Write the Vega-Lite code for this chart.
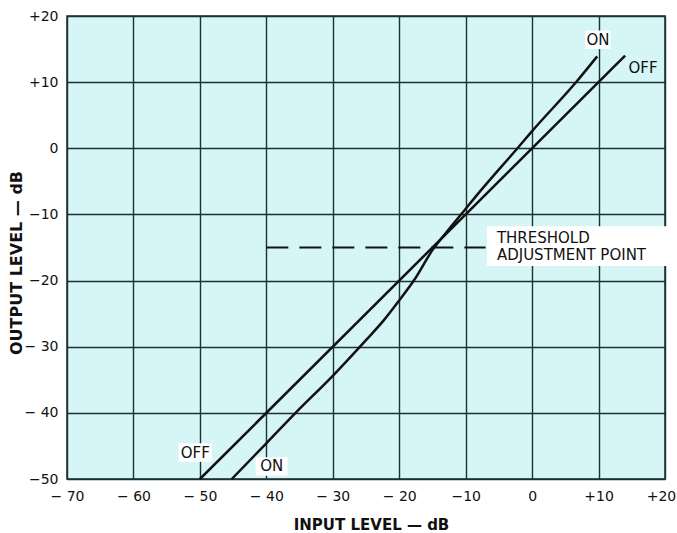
{
  "$schema": "https://vega.github.io/schema/vega-lite/v6.json",
  "width": 598,
  "height": 463,
  "autosize": {"type": "none"},
  "padding": {"left": 67, "top": 16, "right": 12, "bottom": 54},
  "background": "white",
  "config": {
    "font": "DejaVu Sans",
    "view": {"fill": "#d6f5f7", "stroke": "#1c2e2e", "strokeWidth": 1.5},
    "axis": {
      "grid": true,
      "gridColor": "#1c3232",
      "gridWidth": 1.4,
      "gridOpacity": 1,
      "ticks": false,
      "tickSize": 0,
      "domain": false,
      "labelFont": "DejaVu Sans",
      "labelFontSize": 14,
      "labelColor": "#111",
      "labelFlush": false,
      "labelOverlap": false,
      "titleFont": "DejaVu Sans",
      "titleFontWeight": "bold",
      "titleColor": "#111"
    }
  },
  "datasets": {
    "curves": [
      {"series": "OFF", "x": -50, "y": -50},
      {"series": "OFF", "x": 14, "y": 14},
      {"series": "ON", "x": -45.2, "y": -50},
      {"series": "ON", "x": -40, "y": -44.6},
      {"series": "ON", "x": -35.6, "y": -40},
      {"series": "ON", "x": -30, "y": -34.4},
      {"series": "ON", "x": -25, "y": -29.0},
      {"series": "ON", "x": -22.4, "y": -26.1},
      {"series": "ON", "x": -20, "y": -23.0},
      {"series": "ON", "x": -17.8, "y": -20},
      {"series": "ON", "x": -15, "y": -15.4},
      {"series": "ON", "x": -12.5, "y": -12.2},
      {"series": "ON", "x": -10.2, "y": -9.4},
      {"series": "ON", "x": -8, "y": -6.7},
      {"series": "ON", "x": -2.3, "y": -0.1},
      {"series": "ON", "x": 0, "y": 2.6},
      {"series": "ON", "x": 6.7, "y": 10.1},
      {"series": "ON", "x": 9.8, "y": 13.9}
    ],
    "threshold": [
      {"x": -40, "y": -15},
      {"x": -7, "y": -15}
    ],
    "boxes": [
      {"x": 8.0, "x2": 11.8, "y": 15.0, "y2": 17.8},
      {"x": -53.2, "x2": -48.2, "y": -44.6, "y2": -47.4},
      {"x": -41.6, "x2": -36.8, "y": -46.7, "y2": -49.5},
      {"x": -6.8, "x2": 21.2, "y": -11.8, "y2": -17.8}
    ],
    "curveLabels": [
      {"text": "ON", "x": 9.9, "y": 16.4},
      {"text": "OFF", "x": 16.7, "y": 12.2},
      {"text": "OFF", "x": -50.7, "y": -46.0},
      {"text": "ON", "x": -39.2, "y": -48.1}
    ],
    "noteLabels": [
      {"text": "THRESHOLD", "x": -5.3, "y": -13.5},
      {"text": "ADJUSTMENT POINT", "x": -5.3, "y": -16.1}
    ]
  },
  "layer": [
    {
      "data": {"name": "boxes"},
      "mark": {"type": "rect", "fill": "white", "stroke": null},
      "encoding": {
        "x": {"field": "x", "type": "quantitative", "scale": {"domain": [-70, 20], "nice": false, "zero": false},
          "axis": {
            "values": [-70, -60, -50, -40, -30, -20, -10, 0, 10, 20],
            "labelPadding": 10,
            "labelOffset": {"condition": {"test": "datum.value == 20", "value": -4}, "value": 0},
            "labelExpr": "datum.value == 0 ? '0' : datum.value > 0 ? '+' + datum.value : (datum.value == -10 ? '\u221210' : '\u2212 ' + (-datum.value))",
            "title": "INPUT LEVEL \u2014 dB",
            "titleFontSize": 15,
            "titleX": 304,
            "titleY": 38
          }},
        "x2": {"field": "x2"},
        "y": {"field": "y", "type": "quantitative", "scale": {"domain": [-50, 20], "nice": false, "zero": false},
          "axis": {
            "values": [-50, -40, -30, -20, -10, 0, 10, 20],
            "labelPadding": 9,
            "labelExpr": "datum.value == 0 ? '0' : datum.value > 0 ? '+' + datum.value : (datum.value == -10 || datum.value == -20 || datum.value == -50 ? '\u2212' + (-datum.value) : '\u2212 ' + (-datum.value))",
            "title": "OUTPUT LEVEL \u2014 dB",
            "titleFontSize": 16,
            "titleX": -43,
            "titleY": 246.5
          }},
        "y2": {"field": "y2"}
      }
    },
    {
      "data": {"name": "threshold"},
      "mark": {"type": "line", "color": "#111", "strokeWidth": 2.2, "strokeDash": [22, 11], "strokeCap": "butt"},
      "encoding": {
        "x": {"field": "x", "type": "quantitative"},
        "y": {"field": "y", "type": "quantitative"}
      }
    },
    {
      "data": {"name": "curves"},
      "mark": {"type": "line", "color": "#111", "strokeWidth": 2.5, "interpolate": "monotone"},
      "encoding": {
        "x": {"field": "x", "type": "quantitative"},
        "y": {"field": "y", "type": "quantitative"},
        "detail": {"field": "series", "type": "nominal"}
      }
    },
    {
      "data": {"name": "curveLabels"},
      "mark": {"type": "text", "fontSize": 15, "font": "DejaVu Sans", "color": "#111", "baseline": "middle", "align": "center"},
      "encoding": {
        "x": {"field": "x", "type": "quantitative"},
        "y": {"field": "y", "type": "quantitative"},
        "text": {"field": "text"}
      }
    },
    {
      "data": {"name": "noteLabels"},
      "mark": {"type": "text", "fontSize": 15, "font": "DejaVu Sans", "color": "#111", "baseline": "middle", "align": "left"},
      "encoding": {
        "x": {"field": "x", "type": "quantitative"},
        "y": {"field": "y", "type": "quantitative"},
        "text": {"field": "text"}
      }
    }
  ]
}
